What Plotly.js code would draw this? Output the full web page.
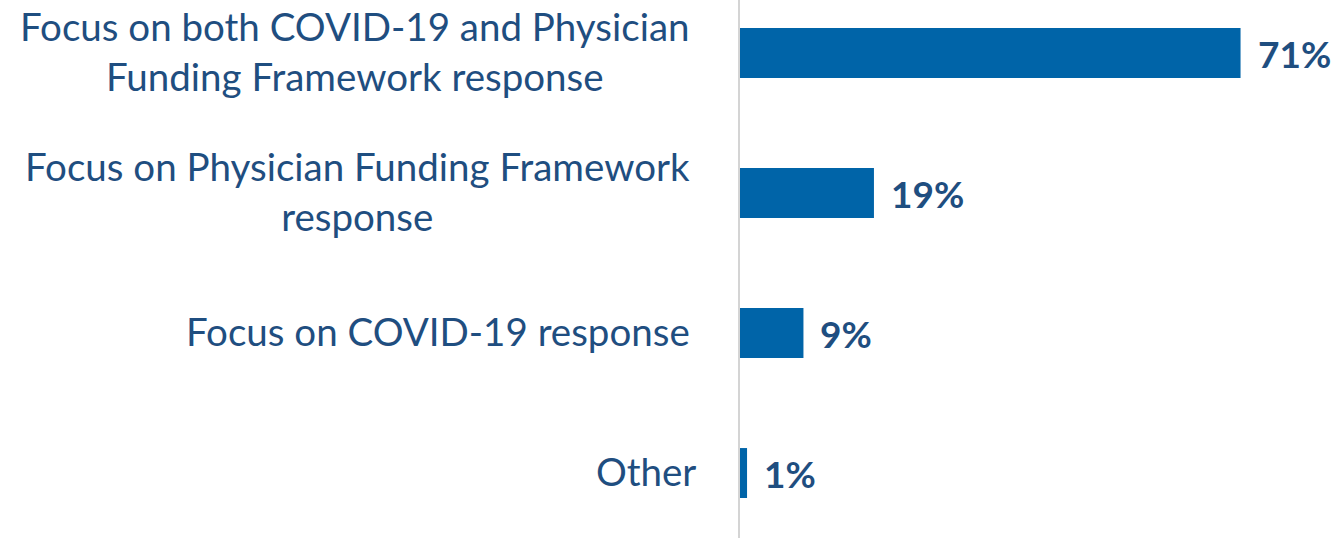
<!DOCTYPE html>
<html><head><meta charset="utf-8">
<script src="https://cdn.plot.ly/plotly-3.0.1.min.js"></script>
<style>html,body{margin:0;padding:0;background:#fff}#chart{width:1335px;height:538px}</style>
</head><body><div id="chart"></div>
<script>
const categories = [
  "Focus on both COVID-19 and Physician<br>Funding Framework response",
  "Focus on Physician Funding Framework<br>response",
  "Focus on COVID-19 response",
  "Other"
];
const values = [71, 19, 9, 1];
const valueLabels = ["71%", "19%", "9%", "1%"];

const BAR = "#0064A8", TXT = "#1F4E80", FONT = "Lato, 'Liberation Sans', sans-serif";

const trace = {
  type: "bar", orientation: "h",
  x: values, y: categories.map((c, i) => i),
  marker: {color: BAR}, width: 0.357,
  hoverinfo: "skip", showlegend: false
};

const annotations = [];
categories.forEach((c, i) => {
  annotations.push({
    xref: "paper", yref: "y", x: 0, y: i, xanchor: "right", yanchor: "middle",
    xshift: c === "Other" ? -42 : -48, yshift: 2, text: c, showarrow: false, align: "center",
    font: {family: FONT, size: 38.5, color: TXT}
  });
  annotations.push({
    xref: "x", yref: "y", x: values[i], y: i, xanchor: "left", yanchor: "middle",
    xshift: 15, text: "<b>" + valueLabels[i] + "</b>", showarrow: false,
    font: {family: FONT, size: 37, color: TXT}
  });
});

const layout = {
  width: 1335, height: 538,
  margin: {l: 740, r: 31, t: 0, b: 0, pad: 0},
  paper_bgcolor: "#fff", plot_bgcolor: "#fff",
  xaxis: {range: [0, 80], showgrid: false, zeroline: false, showticklabels: false, showline: false, fixedrange: true},
  yaxis: {range: [3.464, -0.379], showgrid: false, zeroline: false, showticklabels: false,
          showline: true, linecolor: "#D4D4D4", linewidth: 2, fixedrange: true},
  annotations: annotations,
  bargap: 0.64
};
Plotly.newPlot("chart", [trace], layout, {staticPlot: true});
</script></body></html>
